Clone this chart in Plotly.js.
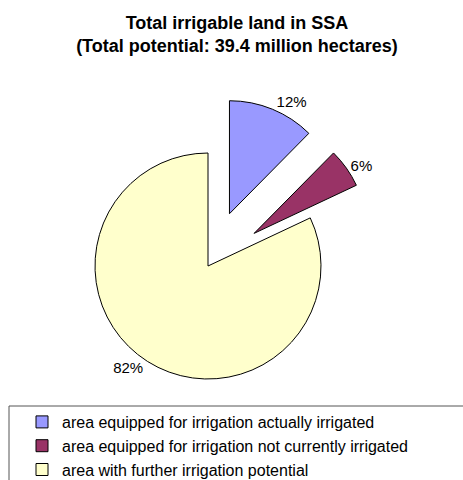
<!DOCTYPE html>
<html><head><meta charset="utf-8">
<script src="https://cdn.plot.ly/plotly-3.0.1.min.js"></script>
<style>html,body{margin:0;padding:0;background:#fff}</style>
</head><body>
<div id="chart" style="width:463px;height:480px"></div>
<script>
const categories = [
  "area equipped for irrigation actually irrigated",
  "area equipped for irrigation not currently irrigated",
  "area with further irrigation potential"
];
const shares = [12.4, 5.6, 82];
const colors = ["#9999FF", "#993366", "#FFFFCC"];
const pulls = [0.5, 0.5, 0];

const W = 463, H = 480;
const cx = 208, cy = 266, r = 113;
const half = r * (1 + Math.max(...pulls));

const trace = {
  type: "pie",
  labels: categories,
  values: shares,
  sort: false,
  direction: "clockwise",
  rotation: 0,
  pull: pulls,
  marker: {colors: colors, line: {color: "#000", width: 1}},
  textposition: "outside",
  texttemplate: "%{percent:.0%}",
  textfont: {family: "Liberation Sans, Arial, sans-serif", size: 15, color: "#000"},
  hoverinfo: "none",
  domain: {
    x: [(cx - half) / W, (cx + half) / W],
    y: [(H - cy - half) / H, (H - cy + half) / H]
  }
};

const layout = {
  width: W, height: H,
  margin: {l: 0, r: 0, t: 0, b: 0, autoexpand: false},
  paper_bgcolor: "#fff",
  font: {family: "Liberation Sans, Arial, sans-serif", size: 16, color: "#000"},
  title: {
    text: "<b>Total irrigable land in SSA<br>(Total potential: 39.4 million hectares)</b>",
    font: {size: 18, color: "#000"},
    x: 237 / W, xanchor: "center",
    y: 1 - 29 / H, yanchor: "middle", yref: "container"
  },
  showlegend: true,
  legend: {
    x: 22 / W, xanchor: "left",
    y: 1 - 405 / H, yanchor: "top",
    bgcolor: "rgba(0,0,0,0)",
    borderwidth: 0,
    traceorder: "normal",
    font: {size: 16, color: "#000"}
  },
  shapes: [{
    type: "rect", xref: "paper", yref: "paper",
    x0: 9 / W, x1: 1.05, y0: -0.1, y1: 1 - 406 / H,
    line: {color: "#555", width: 1}
  }]
};

Plotly.newPlot("chart", [trace], layout, {staticPlot: true, displayModeBar: false});
</script>
</body></html>
